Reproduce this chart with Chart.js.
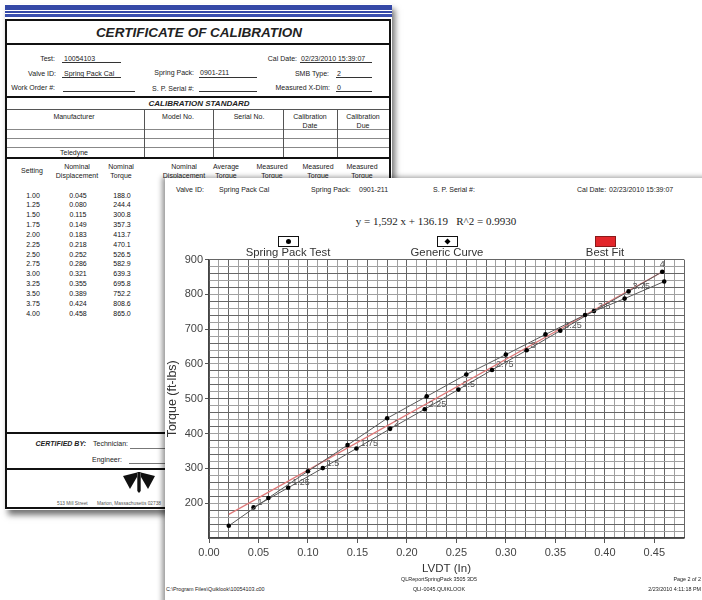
<!DOCTYPE html>
<html>
<head>
<meta charset="utf-8">
<script src="https://cdn.jsdelivr.net/npm/chart.js@4.4.1/dist/chart.umd.min.js"></script>
<style>
  body { margin: 0; width: 702px; height: 600px; background: #fff; position: relative; overflow: hidden;
         font-family: "Liberation Sans", Arial, sans-serif; color: #222; }
  .layer { position: absolute; }
  .t { position: absolute; white-space: pre; font-size: 7px; line-height: 1; }
  .bi { font-weight: bold; font-style: italic; }
  .ln { position: absolute; }
  #cert { left: 0; top: 0; width: 702px; height: 600px; z-index: 1; }
  #paper { position: absolute; left: 5px; top: 4px; width: 387px; height: 506px; background: #fff;
           box-shadow: 3px 5px 6px rgba(0,0,0,0.55); }
  #page { left: 165px; top: 178px; width: 560px; height: 440px; background: #fff; z-index: 2;
          box-shadow: -3px -1px 5px rgba(0,0,0,0.4); }
  #chart { position: absolute; left: 0px; top: 73px; }
  .lgbox { position: absolute; box-sizing: border-box; border: 1px solid #111; background: #fff; }
</style>
</head>
<body>
<div id="cert" class="layer"><div id="paper"></div></div>
<div id="page" class="layer">
  <canvas id="chart" width="537" height="334"></canvas>
</div>
<script>
// certificate table / generic curve (nominal values)
const settings = ['1.00', '1.25', '1.50', '1.75', '2.00', '2.25', '2.50', '2.75', '3.00', '3.25', '3.50', '3.75', '4.00'];
const nominalDisp = [0.045, 0.080, 0.115, 0.149, 0.183, 0.218, 0.252, 0.286, 0.321, 0.355, 0.389, 0.424, 0.458];
const nominalTorque = [188.0, 244.4, 300.8, 357.3, 413.7, 470.1, 526.5, 582.9, 639.3, 695.8, 752.2, 808.6, 865.0];

// spring pack test (measured)
const testLvdt = [0.02, 0.06, 0.10, 0.14, 0.18, 0.22, 0.26, 0.30, 0.34, 0.38, 0.42, 0.46];
const testTorque = [135, 215, 292, 367, 444, 507, 570, 627, 685, 741, 788, 837];

// best fit line ends
const fitLvdt = [0.02, 0.46];
const fitTorque = [168, 868];

const seriesNames = ['Spring Pack Test', 'Generic Curve', 'Best Fit'];
const equationText = 'y = 1,592 x + 136.19   R^2 = 0.9930';

const cert = document.getElementById('cert');
const page = document.getElementById('page');
cert.ox = 0; cert.oy = 0;
page.ox = 165; page.oy = 178;

function put(layer, s, x, y, al, cls, size) {
  const d = document.createElement('div');
  d.className = 't ' + (cls || '');
  d.textContent = s;
  d.style.left = (x - layer.ox) + 'px';
  d.style.top = (y - layer.oy) + 'px';
  const tx = al === 'r' ? '-100%' : al === 'c' ? '-50%' : '0';
  d.style.transform = 'translate(' + tx + ',-50%)';
  if (size) d.style.fontSize = size + 'px';
  layer.appendChild(d);
  return d;
}

function line(layer, x1, y1, x2, y2, w, color) {
  const d = document.createElement('div');
  d.className = 'ln';
  d.style.left = (x1 - layer.ox) + 'px';
  d.style.top = (y1 - layer.oy) + 'px';
  d.style.width = (x2 > x1 ? x2 - x1 : w) + 'px';
  d.style.height = (y2 > y1 ? y2 - y1 : w) + 'px';
  d.style.background = color || '#111';
  layer.appendChild(d);
}

// ---- certificate (back sheet) ----
line(cert, 5, 5, 392, 9.5, 0, '#3448a6');
line(cert, 5, 10.5, 392, 13, 0, '#3448a6');
line(cert, 5, 14, 392, 17, 0, '#3a4fae');
line(cert, 5, 19, 391, 21, 0);
line(cert, 5, 19, 7, 509, 0);
line(cert, 389, 19, 391, 509, 0);
line(cert, 5, 507, 391, 509, 0);

put(cert, 'CERTIFICATE OF CALIBRATION', 199, 33, 'c', 'bi', 13.5);
line(cert, 7, 43, 389, 45, 0);

put(cert, 'Test:', 55, 58, 'r');
put(cert, '10054103', 64, 57.5, 'l');
line(cert, 62, 62, 121, 62.8, 0, '#333');
put(cert, 'Cal Date:', 297, 58, 'r');
put(cert, '02/23/2010 15:39:07', 301, 57.5, 'l');
line(cert, 300, 62, 372, 62.8, 0, '#333');

put(cert, 'Valve ID:', 56, 72.5, 'r');
put(cert, 'Spring Pack Cal', 64, 72.5, 'l');
line(cert, 62, 77, 121, 77.8, 0, '#333');
put(cert, 'Spring Pack:', 194, 72, 'r');
put(cert, '0901-211', 200, 72, 'l');
line(cert, 199, 77, 257, 77.8, 0, '#333');
put(cert, 'SMB Type:', 329, 72.5, 'r');
put(cert, '2', 337, 72.5, 'l');
line(cert, 336, 77, 372, 77.8, 0, '#333');

put(cert, 'Work Order #:', 55, 87, 'r');
line(cert, 63, 91, 135, 91.8, 0, '#333');
put(cert, 'S. P. Serial #:', 194, 87.5, 'r');
line(cert, 199, 91, 257, 91.8, 0, '#333');
put(cert, 'Measured X-Dim:', 330, 87, 'r');
put(cert, '0', 337, 86.5, 'l');
line(cert, 336, 90.5, 372, 91.3, 0, '#333');

line(cert, 7, 95.5, 389, 97.5, 0);
put(cert, 'CALIBRATION STANDARD', 199, 104, 'c', 'bi', 8);
line(cert, 7, 109, 389, 110.3, 0, '#555');
put(cert, 'Manufacturer', 74, 116, 'c');
put(cert, 'Model No.', 178, 116, 'c');
put(cert, 'Serial No.', 249, 116, 'c');
put(cert, 'Calibration', 310, 116, 'c');
put(cert, 'Date', 310, 124.5, 'c');
put(cert, 'Calibration', 363, 116, 'c');
put(cert, 'Due', 363, 124.5, 'c');
[128.5, 137.5, 146.5].forEach(y => line(cert, 7, y, 389, y + 1.3, 0, '#888'));
[144, 213, 283, 337].forEach(x => line(cert, x, 110, x + 1, 157, 0, '#555'));
put(cert, 'Teledyne', 74, 152, 'c');
line(cert, 7, 156.5, 389, 158.5, 0);

put(cert, 'Setting', 32, 170, 'c');
[[77, 'Nominal', 'Displacement'], [121, 'Nominal', 'Torque'], [184, 'Nominal', 'Displacement'],
 [226, 'Average', 'Torque'], [272, 'Measured', 'Torque'], [318, 'Measured', 'Torque'], [362, 'Measured', 'Torque']]
  .forEach(h => { put(cert, h[1], h[0], 165.5, 'c'); put(cert, h[2], h[0], 174.5, 'c'); });

settings.forEach((s, i) => {
  const y = 194.5 + i * 9.85;
  put(cert, s, 33, y, 'c').style.color = '#111';
  put(cert, nominalDisp[i].toFixed(3), 78, y, 'c').style.color = '#111';
  put(cert, nominalTorque[i].toFixed(1), 122, y, 'c').style.color = '#111';
});

line(cert, 7, 432, 389, 434, 0);
put(cert, 'CERTIFIED BY:', 86, 443, 'r', 'bi');
put(cert, 'Technician:', 93, 443, 'l');
line(cert, 130, 447.5, 200, 448.3, 0, '#777');
put(cert, 'Engineer:', 122, 458.5, 'r');
line(cert, 129, 463, 200, 463.8, 0, '#777');
line(cert, 7, 468, 389, 470, 0);
put(cert, '513 Mill Street', 57, 504, 'l', '', 4.8).style.color = '#555';
put(cert, 'Marion, Massachusetts 02738', 97, 504, 'l', '', 4.8).style.color = '#555';

// teledyne mark
const logo = document.createElementNS('http://www.w3.org/2000/svg', 'svg');
logo.setAttribute('width', '32'); logo.setAttribute('height', '21');
logo.style.position = 'absolute'; logo.style.left = '123px'; logo.style.top = '472px';
logo.innerHTML = '<polygon fill="#111" points="0,4 14,0.5 14,5 7,17"/>' +
  '<polygon fill="#111" points="32,4 18,0.5 18,5 25,17"/>' +
  '<polygon fill="#111" points="14.3,0 17.7,0 17.7,19 16,21 14.3,19"/>';
cert.appendChild(logo);

// ---- chart sheet (front) ----
put(page, 'Valve ID:', 176, 189, 'l');
put(page, 'Spring Pack Cal', 219, 189, 'l');
put(page, 'Spring Pack:', 311, 189, 'l');
put(page, '0901-211', 359, 189, 'l');
put(page, 'S. P. Serial #:', 433, 189, 'l');
put(page, 'Cal Date:', 577, 189, 'l');
put(page, '02/23/2010 15:39:07', 609, 189, 'l');

put(page, equationText, 436, 221, 'c', '', 11).style.fontFamily = '"Liberation Serif", "Times New Roman", serif';

// legend
const legendX = [288, 447, 605];
legendX.forEach((x, i) => {
  const b = document.createElement('div');
  b.className = 'lgbox';
  b.style.left = (x - 10.5 - page.ox) + 'px';
  b.style.top = (236 - page.oy) + 'px';
  b.style.width = '21px'; b.style.height = '11px';
  if (i === 2) { b.style.background = '#e3262b'; b.style.borderColor = '#8a1a1a'; }
  else {
    const dot = document.createElement('div');
    dot.style.position = 'absolute';
    dot.style.left = '7px'; dot.style.top = '2px';
    dot.style.width = '5px'; dot.style.height = '5px';
    dot.style.background = '#000';
    dot.style.borderRadius = i === 0 ? '50%' : '0';
    if (i === 1) { dot.style.transform = 'rotate(45deg) scale(0.85)'; }
    b.appendChild(dot);
  }
  page.appendChild(b);
  put(page, seriesNames[i], x, 253, 'c', '', 11.3).style.color = '#333';
});

put(page, 'C:\\Program Files\\Quiklook\\10054103.c00', 166, 590, 'l', '', 5.4);
put(page, 'QLReportSpringPack 3505 3D5', 439, 579.5, 'c', '', 5.4);
put(page, 'QLI-0045.QUIKLOOK', 439, 589.5, 'c', '', 5.4);
put(page, 'Page 2 of 2', 701, 579.5, 'r', '', 5.4);
put(page, '2/23/2010 4:11:18 PM', 701, 589.5, 'r', '', 5.4);

// labels beside the generic curve points
const pointLabels = {
  id: 'pointLabels',
  afterDatasetsDraw(chart) {
    const c = chart.ctx;
    const meta = chart.getDatasetMeta(1);
    c.save();
    c.font = '9px "Liberation Sans", Arial, sans-serif';
    c.fillStyle = '#555';
    c.textBaseline = 'middle';
    meta.data.forEach((pt, i) => {
      const s = String(parseFloat(settings[i]));
      if (i === meta.data.length - 1) {
        c.textAlign = 'center';
        c.fillText(s, pt.x, pt.y - 7);
      } else {
        c.textAlign = 'left';
        c.fillText(s, pt.x + 4, pt.y - 5);
      }
    });
    c.restore();
  }
};

const xy = (xs, ys) => xs.map((x, i) => ({ x: x, y: ys[i] }));
const gridDark = '#666', gridLight = '#a0a0a0';

new Chart(document.getElementById('chart'), {
  type: 'scatter',
  data: {
    datasets: [
      { label: seriesNames[0], data: xy(testLvdt, testTorque), showLine: true,
        borderColor: '#5a5a5a', borderWidth: 1, pointRadius: 2.3,
        pointBackgroundColor: '#000', pointBorderColor: '#000', pointBorderWidth: 0 },
      { label: seriesNames[1], data: xy(nominalDisp, nominalTorque), showLine: true,
        borderColor: '#5a5a5a', borderWidth: 1, pointRadius: 2.3,
        pointBackgroundColor: '#000', pointBorderColor: '#000', pointBorderWidth: 0 },
      { label: seriesNames[2], data: xy(fitLvdt, fitTorque), showLine: true,
        borderColor: '#e07a7a', borderWidth: 1.3, pointRadius: 0 }
    ]
  },
  options: {
    responsive: false,
    animation: false,
    layout: { padding: { left: 0, right: 18, top: 8, bottom: 7 } },
    plugins: { legend: { display: false }, tooltip: { enabled: false } },
    scales: {
      x: {
        type: 'linear', min: 0, max: 0.48,
        afterFit: s => { s.height = 40; },
        ticks: {
          stepSize: 0.01, autoSkip: false, maxRotation: 0, padding: 3,
          color: '#444', font: { family: '"Liberation Sans", Arial', size: 11 },
          callback: v => (Math.round(v * 100) % 5 === 0 ? v.toFixed(2) : '')
        },
        grid: {
          color: c => (Math.round(c.tick.value * 100) % 2 === 0 ? gridDark : gridLight),
          tickColor: c => (Math.round(c.tick.value * 100) % 5 === 0 ? '#555' : 'rgba(0,0,0,0)'),
          tickLength: 5, lineWidth: 1
        },
        border: { color: '#444', width: 1.5 },
        title: { display: true, text: 'LVDT (In)', color: '#333',
                 font: { family: '"Liberation Sans", Arial', size: 11.5 }, padding: { top: 0, bottom: 2 } }
      },
      y: {
        type: 'linear', min: 100, max: 900,
        afterFit: s => { s.width = 44; },
        ticks: {
          stepSize: 20, autoSkip: false, padding: 2,
          color: '#444', font: { family: '"Liberation Sans", Arial', size: 11 },
          callback: v => (v % 100 === 0 && v > 100 ? String(v) : '')
        },
        grid: {
          color: c => ((c.tick.value - 100) % 40 === 0 ? gridDark : gridLight),
          tickColor: c => (c.tick.value % 100 === 0 && c.tick.value > 100 ? '#555' : 'rgba(0,0,0,0)'),
          tickLength: 4, lineWidth: 1
        },
        border: { color: '#444', width: 1.5 },
        title: { display: true, text: 'Torque (ft-lbs)', color: '#333',
                 font: { family: '"Liberation Sans", Arial', size: 12.5 }, padding: { top: 0, bottom: 2 } }
      }
    }
  },
  plugins: [pointLabels]
});
</script>
</body>
</html>
